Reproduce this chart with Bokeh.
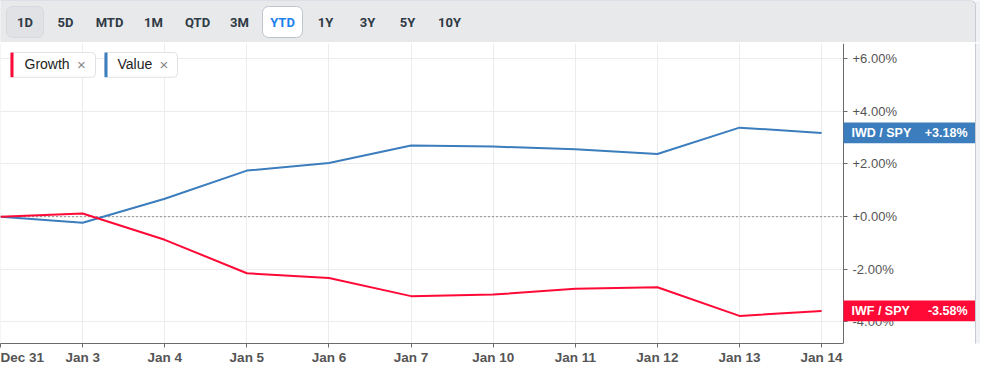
from bokeh.plotting import figure
from bokeh.models import Range1d, FixedTicker
from bokeh.layouts import column
from bokeh.embed import file_html
from bokeh.resources import INLINE
from bokeh.core.properties import value

# ---------------- data ----------------
dates = ["Dec 31", "Jan 3", "Jan 4", "Jan 5", "Jan 6", "Jan 7",
         "Jan 10", "Jan 11", "Jan 12", "Jan 13", "Jan 14"]
growth = [0.0, 0.12, -0.88, -2.15, -2.33, -3.02, -2.96, -2.74, -2.68, -3.77, -3.58]
value_s = [0.0, -0.23, 0.68, 1.75, 2.04, 2.70, 2.66, 2.56, 2.38, 3.38, 3.18]
y_ticks = [-4, -2, 0, 2, 4, 6]
periods = ["1D", "5D", "MTD", "1M", "QTD", "3M", "YTD", "1Y", "3Y", "5Y", "10Y"]
series_names = ["Growth", "Value"]
badge_names = ["IWF / SPY", "IWD / SPY"]

RED = "#ff0a36"
BLUE = "#3b7dbd"
FONT = "Liberation Sans"
TBFONT = "Roboto"

# ---------------- toolbar strip ----------------
tb = figure(width=980, height=42, x_range=Range1d(0, 980), y_range=Range1d(42, 0),
            output_backend="svg", toolbar_location=None, min_border=0)
tb.axis.visible = False
tb.grid.visible = False
tb.outline_line_color = None
tb.background_fill_color = "#f0f1f5"
tb.border_fill_color = "#f0f1f5"
tb.quad(left=[-6], right=[975], top=[0], bottom=[48], fill_color="#e8e9eb",
        line_color="#c5cad3", border_radius=5)
# buttons (1D and selected YTD)
tb.quad(left=[6], right=[43], top=[6], bottom=[37], fill_color="#e1e2e5",
        line_color="#d6d8dc", border_radius=6)
tb.quad(left=[262], right=[302], top=[6], bottom=[37], fill_color="#ffffff",
        line_color="#bfc4cc", border_radius=6)
period_x = [24.5, 65, 109, 153, 197, 239, 282, 325, 367, 407, 449]
period_colors = ["#2f3a45"] * len(periods)
period_colors[periods.index("YTD")] = "#1a7fef"
tb.text(x=period_x, y=[21.5] * len(periods), text=periods, text_align="center",
        text_baseline="middle", text_font=value(TBFONT), text_font_size="13px",
        text_font_style="bold", text_color=period_colors)

# ---------------- main chart ----------------
K = 82.1             # px per day slot
X0 = -0.001
FW = 980
X1 = X0 + FW / K
KY = 26.5            # px per 1 %
Y1 = (217.3 - 43) / KY
Y0 = Y1 - 302 / KY


def dx(sx):
    return X0 + sx / K


def dy(sy):
    return Y1 - (sy - 43) / KY


p = figure(width=980, height=325, x_range=Range1d(X0, X1), y_range=Range1d(Y0, Y1),
           output_backend="svg", toolbar_location=None, y_axis_location="right",
           min_border_left=0, min_border_right=0, min_border_top=1, min_border_bottom=22)
p.outline_line_color = None
p.background_fill_color = "#ffffff"
p.border_fill_color = "#ffffff"

xs = list(range(len(dates)))
p.xaxis.ticker = FixedTicker(ticks=xs)
p.xaxis.major_label_overrides = {i: d for i, d in enumerate(dates)}
p.xaxis.bounds = (X0, dx(843))
p.yaxis.ticker = FixedTicker(ticks=y_ticks)
p.yaxis.major_label_overrides = {t: f"{t:+.2f}%" for t in y_ticks}
p.yaxis.fixed_location = dx(843)

for ax in (p.xaxis[0], p.yaxis[0]):
    ax.axis_line_color = "#6b6b6b"
    ax.major_tick_line_color = "#6b6b6b"
    ax.major_tick_in = 0
    ax.minor_tick_line_color = None
    ax.major_label_text_color = "#555555"
    ax.major_label_text_font = FONT
p.xaxis.major_tick_out = 4
p.xaxis.major_label_text_font_size = "13.5px"
p.xaxis.major_label_text_font_style = "bold"
p.xaxis.major_label_standoff = 2
p.yaxis.major_tick_out = 4
p.yaxis.major_label_text_font_size = "13px"
p.yaxis.major_label_standoff = 5

p.xgrid.grid_line_color = "#ececec"
p.ygrid.grid_line_color = "#ececec"

# mask grid to the right of the value axis, panel edge and outer strip
p.quad(left=[dx(843)], right=[dx(975)], bottom=[Y0], top=[Y1],
       fill_color="#ffffff", line_color=None)
p.quad(left=[dx(975)], right=[dx(980)], bottom=[Y0 - 5], top=[Y1 + 5],
       fill_color="#f0f1f5", line_color=None)
p.quad(left=[dx(974.5)], right=[dx(975.5)], bottom=[Y0 - 5], top=[Y1 + 5],
       fill_color="#c5cad3", line_color=None)

# zero reference line
p.segment(x0=[X0], x1=[dx(843)], y0=[y_ticks[2]], y1=[y_ticks[2]],
          line_color="#555555", line_dash="1 3", line_width=1.3)

p.line(xs, value_s, line_color=BLUE, line_width=2)
p.line(xs, growth, line_color=RED, line_width=2)

# legend chips
p.quad(left=[dx(10), dx(104)], right=[dx(95), dx(177)], top=[dy(52), dy(52)],
       bottom=[dy(77), dy(77)], fill_color="#ffffff", line_color="#dfe2e6", border_radius=4)
p.quad(left=[dx(10), dx(104)], right=[dx(13), dx(107)], top=[dy(52), dy(52)],
       bottom=[dy(77), dy(77)], fill_color=[RED, BLUE], line_color=None)
p.text(x=[dx(24), dx(117)], y=[dy(64)] * 2, text=series_names, text_align="left",
       text_baseline="middle", text_font=value(FONT), text_font_size="14px",
       text_color="#222222")
p.text(x=[dx(81), dx(163.5)], y=[dy(64)] * 2, text=["×", "×"], text_align="center",
       text_baseline="middle", text_font=value(FONT), text_font_size="15px",
       text_color="#888888")

# right-side badges (drawn above the axis labels)
half = 10.5 / KY
last = [growth[-1], value_s[-1]]
p.quad(left=[dx(843)] * 2, right=[dx(974.5)] * 2, top=[v + half for v in last],
       bottom=[v - half for v in last], fill_color=[RED, BLUE], line_color=None,
       level="overlay")
p.text(x=[dx(851)] * 2, y=last, text=badge_names, text_align="left",
       text_baseline="middle", text_color="#ffffff", text_font=value(FONT),
       text_font_size="12.5px", text_font_style="bold", level="overlay")
p.text(x=[dx(967)] * 2, y=last, text=[f"{v:+.2f}%" for v in last], text_align="right",
       text_baseline="middle", text_color="#ffffff", text_font=value(FONT),
       text_font_size="12.5px", text_font_style="bold", level="overlay")

layout = column(tb, p, spacing=0)
open("out.html", "w").write(file_html(layout, INLINE))
